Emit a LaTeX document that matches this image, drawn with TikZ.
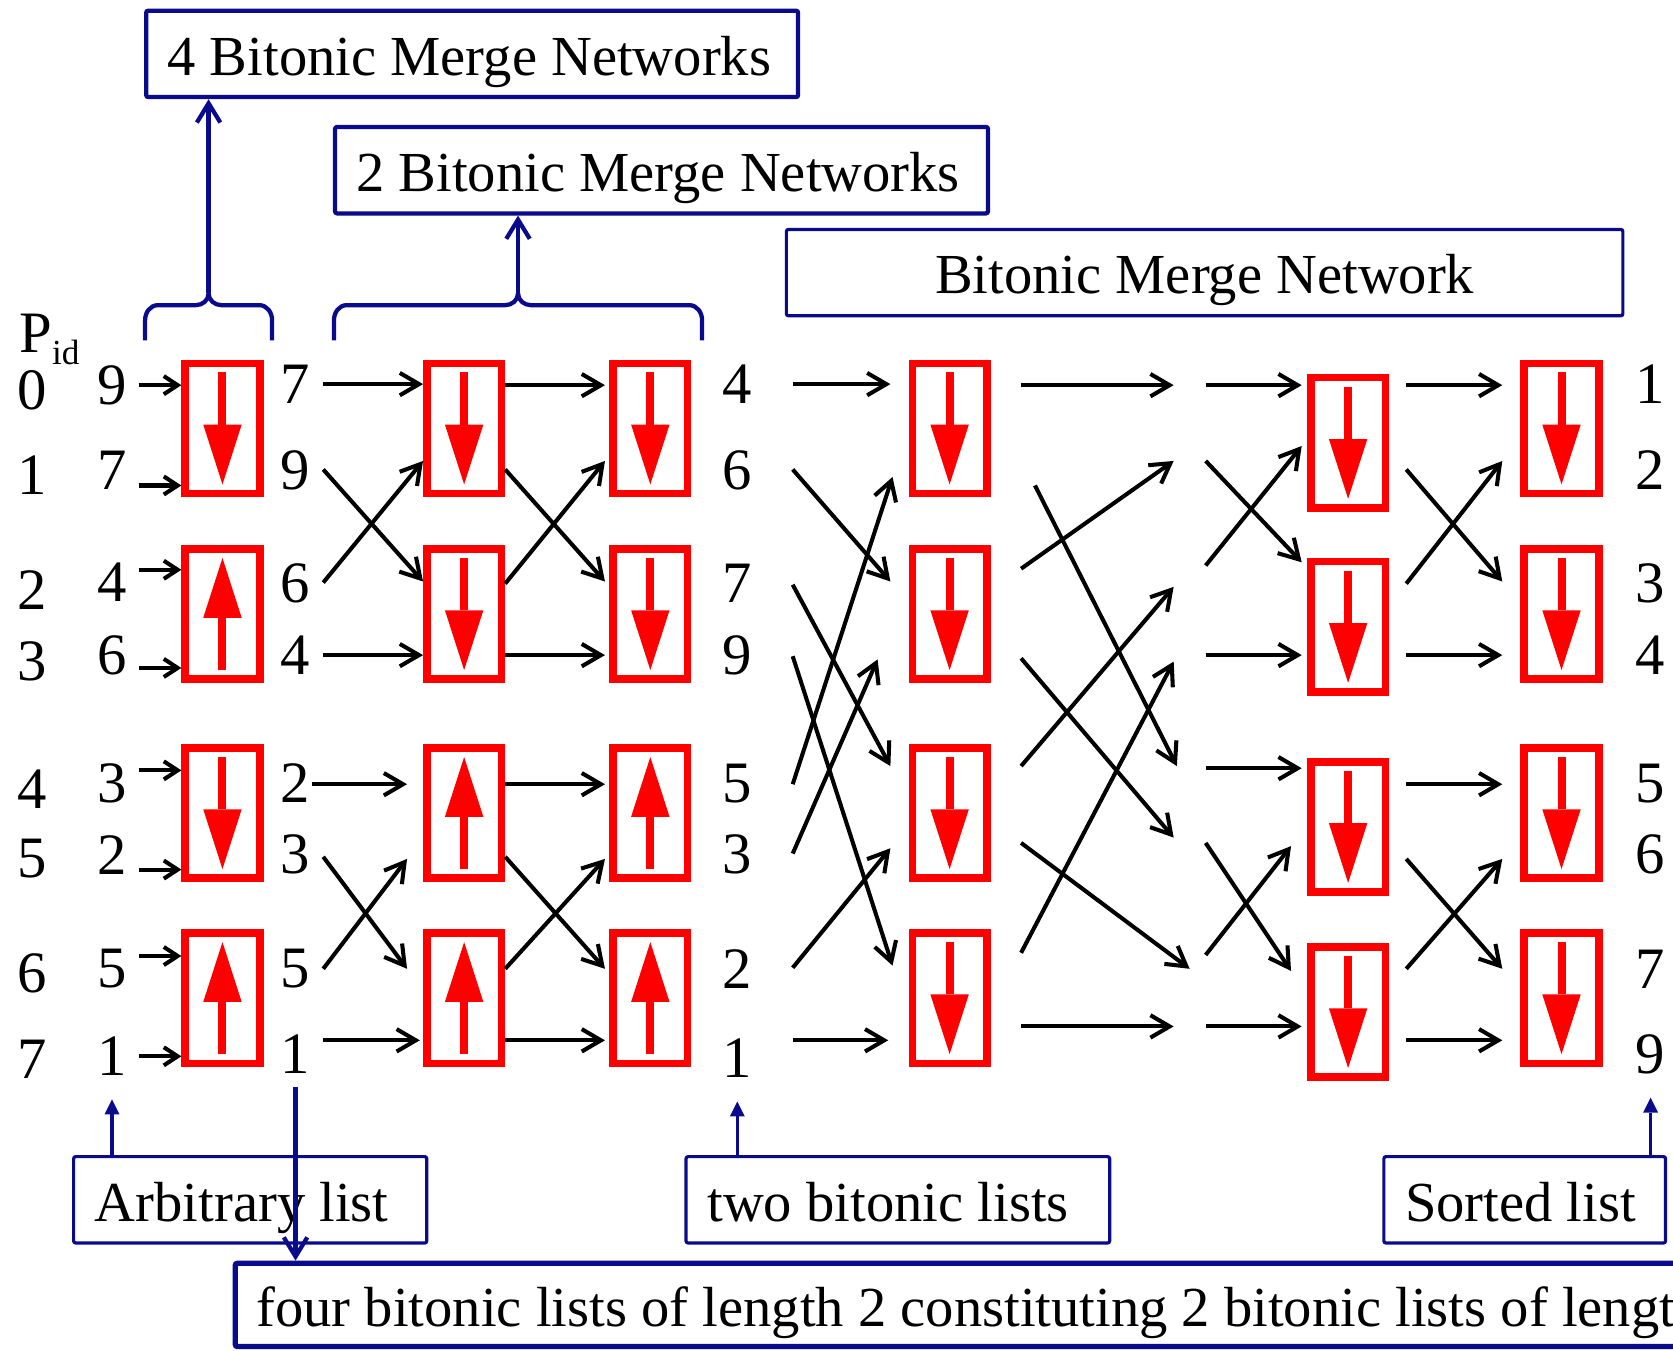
\documentclass[tikz,border=0pt]{standalone}
\usepackage{fontspec}
\setmainfont{Liberation Serif}
\usetikzlibrary{arrows.meta}
\definecolor{cmpred}{RGB}{255,0,0}
\definecolor{netblue}{RGB}{10,10,140}
\begin{document}
\begin{tikzpicture}[x=1pt,y=1pt]
\tikzstyle{every node}+=[inner sep=0pt]
\tikzstyle{cmp}=[draw=cmpred,line width=7pt,minimum width=70pt,minimum height=122pt]
\tikzstyle{dn}=[draw=cmpred,line width=7.5pt,-{Triangle[length=56pt,width=36pt,line width=0pt]}]
\tikzstyle{num}=[font=\fontsize{55}{60}\selectfont]
\tikzstyle{lbl}=[draw=netblue,line width=4pt,minimum height=81pt,rounded corners=2pt,text height=40pt,text depth=0pt,inner xsep=20pt,align=flush left,font=\fontsize{53}{60}\selectfont]
\tikzstyle{wire}=[line width=3.8pt,-{Straight Barb[length=18pt,width=21pt]}]
\tikzstyle{swire}=[line width=3.8pt,-{Straight Barb[length=13pt,width=17pt]}]
\tikzstyle{brc}=[draw=netblue,line width=4pt]
\tikzstyle{barb}=[draw=netblue,line width=4pt,-{Straight Barb[length=18pt,width=22pt]}]
\tikzstyle{uarr}=[draw=netblue,line width=3pt,-{Triangle[length=14pt,width=14pt,line width=0pt]}]
\path[use as bounding box,clip] (0,0) rectangle (1568,-1266);
\node[cmp] (c1a) at (208.5,-401.5) {};
\node[cmp] (c1b) at (208.5,-575.5) {};
\node[cmp] (c1c) at (208.5,-762) {};
\node[cmp] (c1d) at (208.5,-935.5) {};
\node[cmp] (c2a) at (435,-401.5) {};
\node[cmp] (c2b) at (435,-575.5) {};
\node[cmp] (c2c) at (435,-762) {};
\node[cmp] (c2d) at (435,-935.5) {};
\node[cmp] (c3a) at (609.5,-401.5) {};
\node[cmp] (c3b) at (609.5,-575.5) {};
\node[cmp] (c3c) at (609.5,-762) {};
\node[cmp] (c3d) at (609.5,-935.5) {};
\node[cmp] (c4a) at (890,-401.5) {};
\node[cmp] (c4b) at (890,-575.5) {};
\node[cmp] (c4c) at (890,-762) {};
\node[cmp] (c4d) at (890,-935.5) {};
\node[cmp] (c5a) at (1263.5,-415) {};
\node[cmp] (c5b) at (1263.5,-587.5) {};
\node[cmp] (c5c) at (1263.5,-775) {};
\node[cmp] (c5d) at (1263.5,-948.5) {};
\node[cmp] (c6a) at (1463.5,-401.5) {};
\node[cmp] (c6b) at (1463.5,-575.5) {};
\node[cmp] (c6c) at (1463.5,-762) {};
\node[cmp] (c6d) at (1463.5,-935.5) {};
\draw[dn] ([yshift=-12]c1a.north) -- ([yshift=12]c1a.south);
\draw[dn] ([yshift=12]c1b.south) -- ([yshift=-12]c1b.north);
\draw[dn] ([yshift=-12]c1c.north) -- ([yshift=12]c1c.south);
\draw[dn] ([yshift=12]c1d.south) -- ([yshift=-12]c1d.north);
\draw[dn] ([yshift=-12]c2a.north) -- ([yshift=12]c2a.south);
\draw[dn] ([yshift=-12]c2b.north) -- ([yshift=12]c2b.south);
\draw[dn] ([yshift=12]c2c.south) -- ([yshift=-12]c2c.north);
\draw[dn] ([yshift=12]c2d.south) -- ([yshift=-12]c2d.north);
\draw[dn] ([yshift=-12]c3a.north) -- ([yshift=12]c3a.south);
\draw[dn] ([yshift=-12]c3b.north) -- ([yshift=12]c3b.south);
\draw[dn] ([yshift=12]c3c.south) -- ([yshift=-12]c3c.north);
\draw[dn] ([yshift=12]c3d.south) -- ([yshift=-12]c3d.north);
\draw[dn] ([yshift=-12]c4a.north) -- ([yshift=12]c4a.south);
\draw[dn] ([yshift=-12]c4b.north) -- ([yshift=12]c4b.south);
\draw[dn] ([yshift=-12]c4c.north) -- ([yshift=12]c4c.south);
\draw[dn] ([yshift=-12]c4d.north) -- ([yshift=12]c4d.south);
\draw[dn] ([yshift=-12]c5a.north) -- ([yshift=12]c5a.south);
\draw[dn] ([yshift=-12]c5b.north) -- ([yshift=12]c5b.south);
\draw[dn] ([yshift=-12]c5c.north) -- ([yshift=12]c5c.south);
\draw[dn] ([yshift=-12]c5d.north) -- ([yshift=12]c5d.south);
\draw[dn] ([yshift=-12]c6a.north) -- ([yshift=12]c6a.south);
\draw[dn] ([yshift=-12]c6b.north) -- ([yshift=12]c6b.south);
\draw[dn] ([yshift=-12]c6c.north) -- ([yshift=12]c6c.south);
\draw[dn] ([yshift=-12]c6d.north) -- ([yshift=12]c6d.south);
\node[num,anchor=base west] (pid) at (18,-330) {P\raisebox{-12pt}{\fontsize{33}{33}\selectfont id}};
\node[num] (r0) at (30,-366) {0};
\node[num] (r1) at (30,-445) {1};
\node[num] (r2) at (30,-553) {2};
\node[num] (r3) at (30,-620) {3};
\node[num] (r4) at (30,-740) {4};
\node[num] (r5) at (30,-805) {5};
\node[num] (r6) at (30,-912) {6};
\node[num] (r7) at (30,-993) {7};
\node[num] (i0) at (105,-361) {9};
\node[num] (i1) at (105,-441) {7};
\node[num] (i2) at (105,-546) {4};
\node[num] (i3) at (105,-614) {6};
\node[num] (i4) at (105,-734) {3};
\node[num] (i5) at (105,-801) {2};
\node[num] (i6) at (105,-908) {5};
\node[num] (i7) at (105,-990) {1};
\node[num] (o0) at (277,-360) {7};
\node[num] (o1) at (277,-441) {9};
\node[num] (o2) at (277,-547) {6};
\node[num] (o3) at (277,-614) {4};
\node[num] (o4) at (277,-734) {2};
\node[num] (o5) at (277,-801) {3};
\node[num] (o6) at (277,-908) {5};
\node[num] (o7) at (277,-988) {1};
\node[num] (m0) at (691,-360) {4};
\node[num] (m1) at (691,-441) {6};
\node[num] (m2) at (691,-547) {7};
\node[num] (m3) at (691,-614) {9};
\node[num] (m4) at (691,-734) {5};
\node[num] (m5) at (691,-801) {3};
\node[num] (m6) at (691,-908) {2};
\node[num] (m7) at (691,-992) {1};
\node[num] (f0) at (1547,-360) {1};
\node[num] (f1) at (1547,-441) {2};
\node[num] (f2) at (1547,-547) {3};
\node[num] (f3) at (1547,-614) {4};
\node[num] (f4) at (1547,-734) {5};
\node[num] (f5) at (1547,-801) {6};
\node[num] (f6) at (1547,-908) {7};
\node[num] (f7) at (1547,-988) {9};
\draw[swire] ([xshift=11]i0.east) -- ([yshift=40.5]c1a.west);
\draw[swire] ([xshift=11,yshift=-14]i1.east) -- ([yshift=-53.5]c1a.west);
\draw[swire] ([xshift=11,yshift=12]i2.east) -- ([yshift=41.5]c1b.west);
\draw[swire] ([xshift=11,yshift=-12]i3.east) -- ([yshift=-50.5]c1b.west);
\draw[swire] ([xshift=11,yshift=12]i4.east) -- ([yshift=40]c1c.west);
\draw[swire] ([xshift=11,yshift=-14]i5.east) -- ([yshift=-53]c1c.west);
\draw[swire] ([xshift=11,yshift=12]i6.east) -- ([yshift=39.5]c1d.west);
\draw[swire] ([xshift=11]i7.east) -- ([yshift=-54.5]c1d.west);
\draw[wire] ([xshift=12]o0.east) -- ([yshift=41.5]c2a.west);
\draw[wire] ([xshift=12,yshift=1]o1.east) -- ([yshift=30.5]c2b.west);
\draw[wire] ([xshift=12,yshift=1]o2.east) -- ([yshift=-30.5]c2a.west);
\draw[wire] ([xshift=12]o3.east) -- ([yshift=-38.5]c2b.west);
\draw[wire] ([xshift=1,yshift=-1]o4.east) -- ([xshift=-15,yshift=27]c2c.west);
\draw[wire] ([xshift=12,yshift=-2]o5.east) -- ([xshift=-15,yshift=27.5]c2d.west);
\draw[wire] ([xshift=12]o6.east) -- ([xshift=-15,yshift=-43]c2c.west);
\draw[wire] ([xshift=12,yshift=13]o7.east) -- ([xshift=-3,yshift=-39.5]c2d.west);
\draw[wire] ([yshift=40.5]c2a.east) -- ([xshift=-4,yshift=40.5]c3a.west);
\draw[wire] ([yshift=-38.5]c2a.east) -- ([xshift=-4,yshift=30.5]c3b.west);
\draw[wire] ([yshift=28.5]c2b.east) -- ([xshift=-4,yshift=-30.5]c3a.west);
\draw[wire] ([yshift=-38.5]c2b.east) -- ([xshift=-4,yshift=-38.5]c3b.west);
\draw[wire] ([yshift=27]c2c.east) -- ([xshift=-4,yshift=27]c3c.west);
\draw[wire] ([yshift=-41]c2c.east) -- ([xshift=-4,yshift=27.5]c3d.west);
\draw[wire] ([yshift=27.5]c2d.east) -- ([xshift=-4,yshift=-43]c3c.west);
\draw[wire] ([yshift=-39.5]c2d.east) -- ([xshift=-4,yshift=-39.5]c3d.west);
\draw[wire] ([xshift=38]m0.east) -- ([xshift=-17,yshift=41.5]c4a.west);
\draw[wire] ([xshift=38,yshift=1]m1.east) -- ([xshift=-17,yshift=30.5]c4b.west);
\draw[wire] ([xshift=38,yshift=-1]m2.east) -- ([xshift=-17,yshift=44]c4c.west);
\draw[wire] ([xshift=38,yshift=-1]m3.east) -- ([xshift=-15,yshift=30.5]c4d.west);
\draw[wire] ([xshift=38,yshift=-1]m4.east) -- ([xshift=-15,yshift=-45.5]c4a.west);
\draw[wire] ([xshift=38,yshift=1]m5.east) -- ([xshift=-29,yshift=-42.5]c4b.west);
\draw[wire] ([xshift=38,yshift=1]m6.east) -- ([xshift=-17,yshift=-33]c4c.west);
\draw[wire] ([xshift=38,yshift=17]m7.east) -- ([xshift=-19,yshift=-39.5]c4d.west);
\draw[wire] ([xshift=28.5,yshift=40.5]c4a.east) -- ([xshift=-125,yshift=54]c5a.west);
\draw[wire] ([xshift=28.5,yshift=42.5]c4b.east) -- ([xshift=-125,yshift=-17]c5a.west);
\draw[wire] ([xshift=28.5,yshift=44]c4c.east) -- ([xshift=-125,yshift=37.5]c5b.west);
\draw[wire] ([xshift=28.5,yshift=42.5]c4d.east) -- ([xshift=-125,yshift=-32.5]c5b.west);
\draw[wire] ([xshift=41.5,yshift=-53.5]c4a.east) -- ([xshift=-122,yshift=57]c5c.west);
\draw[wire] ([xshift=28.5,yshift=-41.5]c4b.east) -- ([xshift=-125,yshift=-10]c5c.west);
\draw[wire] ([xshift=28.5,yshift=-28]c4c.east) -- ([xshift=-110,yshift=40.5]c5d.west);
\draw[wire] ([xshift=28.5,yshift=-26.5]c4d.east) -- ([xshift=-125,yshift=-13.5]c5d.west);
\draw[wire] ([xshift=-95,yshift=54]c5a.west) -- ([xshift=-5,yshift=54]c5a.west);
\draw[wire] ([xshift=-95,yshift=-17]c5a.west) -- ([xshift=-5,yshift=60.5]c5b.west);
\draw[wire] ([xshift=-95,yshift=57.5]c5b.west) -- ([xshift=-5,yshift=-3]c5a.west);
\draw[wire] ([xshift=-95,yshift=-26.5]c5b.west) -- ([xshift=-5,yshift=-26.5]c5b.west);
\draw[wire] ([xshift=-95,yshift=55]c5c.west) -- ([xshift=-5,yshift=55]c5c.west);
\draw[wire] ([xshift=-95,yshift=-15]c5c.west) -- ([xshift=-15,yshift=38.5]c5d.west);
\draw[wire] ([xshift=-95,yshift=53.5]c5d.west) -- ([xshift=-15,yshift=-18]c5c.west);
\draw[wire] ([xshift=-95,yshift=-13.5]c5d.west) -- ([xshift=-5,yshift=-13.5]c5d.west);
\draw[wire] ([xshift=16,yshift=54]c5a.east) -- ([xshift=-17,yshift=40.5]c6a.west);
\draw[wire] ([xshift=16,yshift=-25]c5a.east) -- ([xshift=-17,yshift=30.5]c6b.west);
\draw[wire] ([xshift=16,yshift=40.5]c5b.east) -- ([xshift=-17,yshift=-30.5]c6a.west);
\draw[wire] ([xshift=16,yshift=-26.5]c5b.east) -- ([xshift=-17,yshift=-38.5]c6b.west);
\draw[wire] ([xshift=16,yshift=40]c5c.east) -- ([xshift=-17,yshift=27]c6c.west);
\draw[wire] ([xshift=16,yshift=-30]c5c.east) -- ([xshift=-17,yshift=27.5]c6d.west);
\draw[wire] ([xshift=16,yshift=40.5]c5d.east) -- ([xshift=-17,yshift=-43]c6c.west);
\draw[wire] ([xshift=16,yshift=-26.5]c5d.east) -- ([xshift=-17,yshift=-39.5]c6d.west);
\node[lbl,text width=571pt] (t4) at (442.5,-50.5) {4 Bitonic Merge Networks};
\node[lbl,text width=572pt] (t2) at (620,-159.5) {2 Bitonic Merge Networks};
\node[lbl,minimum width=784pt,inner xsep=0pt,align=center,line width=3pt] (tn) at (1129,-255.5) {Bitonic Merge Network};
\coordinate (k4) at (195.5,-275);
\coordinate (k2) at (485.5,-275);
\draw[brc] (136,-319) -- (136,-300) to[out=90,in=180] (148,-286) -- (183.5,-286) to[out=0,in=-90] (k4) to[out=-90,in=180] (207.5,-286) -- (243,-286) to[out=0,in=90] (255,-300) -- (255,-319);
\draw[brc] (313,-319) -- (313,-300) to[out=90,in=180] (325,-286) -- (473.5,-286) to[out=0,in=-90] (k2) to[out=-90,in=180] (497.5,-286) -- (646,-286) to[out=0,in=90] (658,-300) -- (658,-319);
\draw[barb] (k4) -- (k4 |- t4.south);
\draw[barb] (k2) -- (k2 |- t2.south);
\node[lbl,text width=291pt,line width=3pt] (ba) at (234.5,-1124.5) {Arbitrary list};
\node[lbl,text width=357pt,line width=3pt] (bb) at (841.5,-1124.5) {two bitonic lists};
\node[lbl,text width=224pt,line width=3pt] (bs) at (1429,-1124.5) {Sorted list};
\node[lbl,anchor=north west,minimum height=78pt,align=left,line width=5pt] (bf) at (218,-1181.5) {four bitonic lists of length 2 constituting 2 bitonic lists of length 4};
\draw[uarr] (ba.north -| i7) -- ([yshift=-22]i7.south);
\draw[uarr] (bb.north -| m7) -- ([yshift=-22]m7.south);
\draw[uarr] (bs.north -| f7) -- ([yshift=-22]f7.south);
\draw[barb] ([yshift=-12]o7.south) -- (o7 |- bf.north);
\end{tikzpicture}
\end{document}
